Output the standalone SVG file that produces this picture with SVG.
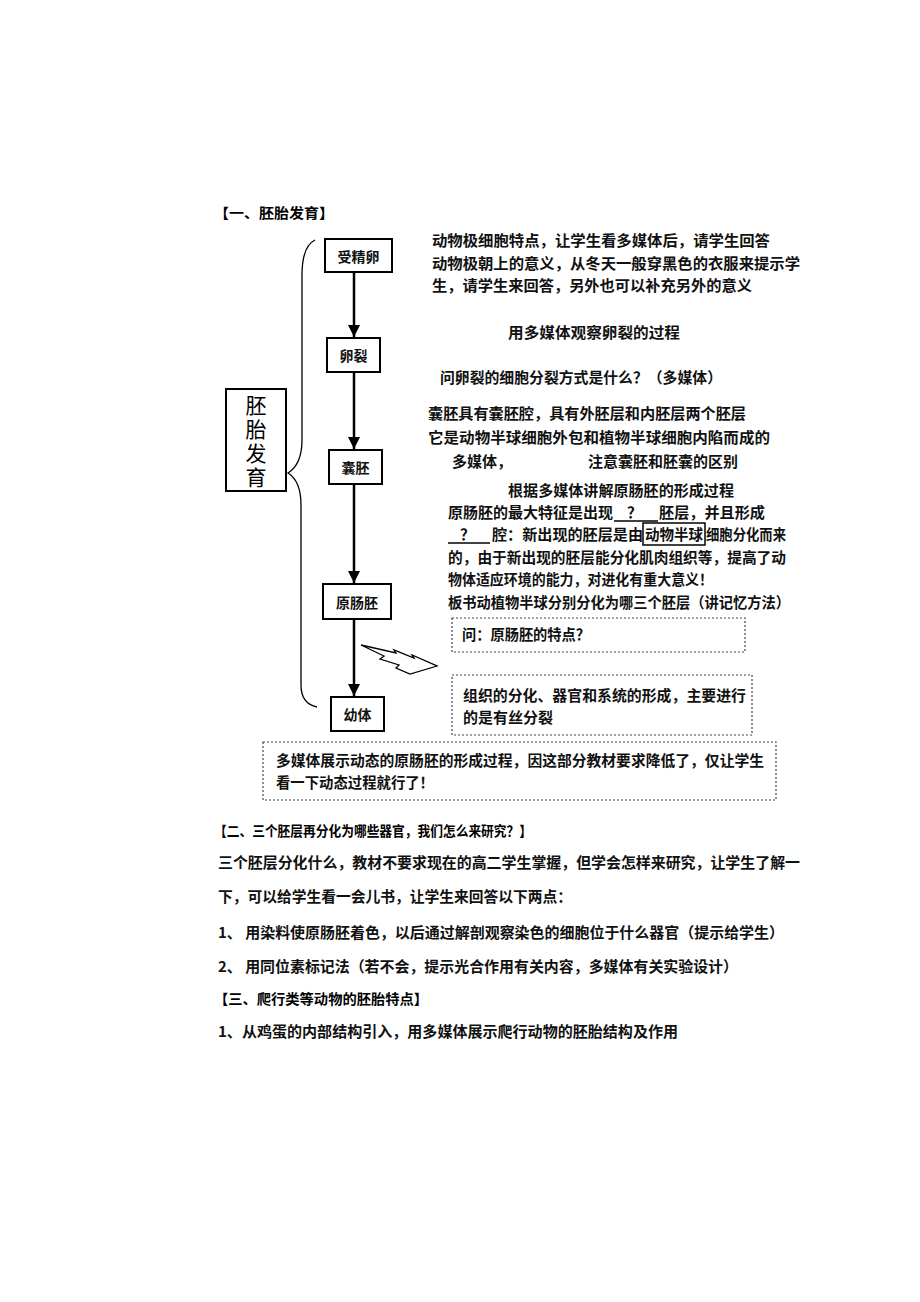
<svg xmlns="http://www.w3.org/2000/svg" width="920" height="1302" viewBox="0 0 920 1302">
<style>
.t{font-family:"Noto Sans CJK SC","Liberation Sans",sans-serif;font-size:15px;font-weight:700;fill:#111}
.h{font-family:"Noto Sans CJK SC","Liberation Sans",sans-serif;font-size:14px;font-weight:700;fill:#000}
.n{fill:#fff;stroke:#000;stroke-width:2}
.nl{font-family:"Noto Sans CJK SC","Liberation Sans",sans-serif;font-size:14px;font-weight:700;fill:#111;text-anchor:middle;dominant-baseline:central}
.d{fill:none;stroke:#444;stroke-width:1.2;stroke-dasharray:2,2}
.c{stroke:#000;stroke-width:2.5;fill:none}
</style>
<defs>
<marker id="ah" viewBox="0 0 10 10" refX="10" refY="5" markerWidth="5" markerHeight="5" orient="auto" markerUnits="strokeWidth">
<path d="M0,0 L10,5 L0,10 Z" fill="#000"/>
</marker>
</defs>
<rect width="920" height="1302" fill="#fff"/>

<text class="h" x="214" y="218" textLength="120" lengthAdjust="spacingAndGlyphs">【一、胚胎发育】</text>

<g id="connectors">
<line class="c" x1="354" y1="272" x2="354" y2="337" marker-end="url(#ah)"/>
<line class="c" x1="354" y1="372" x2="354" y2="449" marker-end="url(#ah)"/>
<line class="c" x1="354" y1="484" x2="354" y2="583" marker-end="url(#ah)"/>
<line class="c" x1="354" y1="619" x2="354" y2="696" marker-end="url(#ah)"/>
</g>

<g id="brace">
<path d="M315,240 C305,245 302,258 302,275 L302,440 C302,458 296,468 288,473 C296,478 301,488 301,505 L301,685 C301,698 307,705 317,707" fill="none" stroke="#000" stroke-width="1.3"/>
</g>

<g id="node-title">
<rect class="n" x="226" y="389" width="60" height="102"/>
<text x="256" y="395" writing-mode="tb" font-family="'Noto Sans CJK SC',sans-serif" font-size="21" letter-spacing="3" fill="#000">胚胎发育</text>
</g>

<g id="node-1"><rect class="n" x="325" y="239" width="67" height="33"/><text class="nl" x="358.5" y="255.5">受精卵</text></g>
<g id="node-2"><rect class="n" x="327" y="338" width="53" height="34"/><text class="nl" x="353.5" y="355">卵裂</text></g>
<g id="node-3"><rect class="n" x="329" y="450" width="53" height="34"/><text class="nl" x="355.5" y="467">囊胚</text></g>
<g id="node-4"><rect class="n" x="323" y="584" width="68" height="35"/><text class="nl" x="357" y="601.5">原肠胚</text></g>
<g id="node-5"><rect class="n" x="331" y="697" width="53" height="34"/><text class="nl" x="357.5" y="714">幼体</text></g>

<g id="lightning">
<path d="M361,645 L396,653 L394,650 L414,658 L412,655 L437,666 L410,674 L396,668 L399,665 L380,659 L384,656 Z" fill="#fff" stroke="#000" stroke-width="1.3" stroke-linejoin="miter"/>
</g>

<g id="notes">
<text class="t" x="432" y="246" textLength="338" lengthAdjust="spacingAndGlyphs">动物极细胞特点，让学生看多媒体后，请学生回答</text>
<text class="t" x="432" y="269" textLength="368" lengthAdjust="spacingAndGlyphs">动物极朝上的意义，从冬天一般穿黑色的衣服来提示学</text>
<text class="t" x="432" y="291" textLength="320" lengthAdjust="spacingAndGlyphs">生，请学生来回答，另外也可以补充另外的意义</text>
<text class="t" x="508" y="338" textLength="172" lengthAdjust="spacingAndGlyphs">用多媒体观察卵裂的过程</text>
<text class="t" x="440" y="383" textLength="282" lengthAdjust="spacingAndGlyphs">问卵裂的细胞分裂方式是什么？（多媒体）</text>
<text class="t" x="428" y="419" textLength="318" lengthAdjust="spacingAndGlyphs">囊胚具有囊胚腔，具有外胚层和内胚层两个胚层</text>
<text class="t" x="428" y="443" textLength="342" lengthAdjust="spacingAndGlyphs">它是动物半球细胞外包和植物半球细胞内陷而成的</text>
<text class="t" x="452" y="467">多媒体，</text>
<text class="t" x="588" y="467" textLength="150" lengthAdjust="spacingAndGlyphs">注意囊胚和胚囊的区别</text>
<text class="t" x="508" y="496" textLength="226" lengthAdjust="spacingAndGlyphs">根据多媒体讲解原肠胚的形成过程</text>
<text class="t" x="448" y="518" textLength="165" lengthAdjust="spacingAndGlyphs">原肠胚的最大特征是出现</text>
<text class="t" x="627" y="518">？</text>
<line x1="614" y1="521" x2="658" y2="521" stroke="#000" stroke-width="1.3"/>
<text class="t" x="659" y="518" textLength="106" lengthAdjust="spacingAndGlyphs">胚层，并且形成</text>
<text class="t" x="460" y="540">？</text>
<line x1="448" y1="543" x2="490" y2="543" stroke="#000" stroke-width="1.3"/>
<text class="t" x="492" y="540" textLength="151" lengthAdjust="spacingAndGlyphs">腔：新出现的胚层是由</text>
<rect x="643" y="523" width="62" height="22" fill="none" stroke="#000" stroke-width="1.5"/>
<text class="t" x="645" y="540" textLength="58" lengthAdjust="spacingAndGlyphs">动物半球</text>
<text class="t" x="706" y="540" textLength="80" lengthAdjust="spacingAndGlyphs">细胞分化而来</text>
<text class="t" x="448" y="563" textLength="338" lengthAdjust="spacingAndGlyphs">的，由于新出现的胚层能分化肌肉组织等，提高了动</text>
<text class="t" x="448" y="585" textLength="265" lengthAdjust="spacingAndGlyphs">物体适应环境的能力，对进化有重大意义！</text>
<text class="t" x="448" y="608" textLength="342" lengthAdjust="spacingAndGlyphs">板书动植物半球分别分化为哪三个胚层（讲记忆方法）</text>
</g>

<g id="box-question">
<rect class="d" x="452" y="618" width="293" height="34"/>
<text class="t" x="462" y="640" textLength="128" lengthAdjust="spacingAndGlyphs">问：原肠胚的特点？</text>
</g>
<g id="box-mitosis">
<rect class="d" x="452" y="675" width="300" height="60"/>
<text class="t" x="463" y="701" textLength="283" lengthAdjust="spacingAndGlyphs">组织的分化、器官和系统的形成，主要进行</text>
<text class="t" x="463" y="723" textLength="90" lengthAdjust="spacingAndGlyphs">的是有丝分裂</text>
</g>
<g id="box-multimedia">
<rect class="d" x="263" y="742" width="513" height="58"/>
<text class="t" x="276" y="766" textLength="488" lengthAdjust="spacingAndGlyphs">多媒体展示动态的原肠胚的形成过程，因这部分教材要求降低了，仅让学生</text>
<text class="t" x="276" y="788" textLength="158" lengthAdjust="spacingAndGlyphs">看一下动态过程就行了！</text>
</g>

<g id="section2">
<text class="h" x="214" y="836" textLength="318" lengthAdjust="spacingAndGlyphs">【二、三个胚层再分化为哪些器官，我们怎么来研究？】</text>
<text class="t" x="218" y="868" textLength="582" lengthAdjust="spacingAndGlyphs">三个胚层分化什么，教材不要求现在的高二学生掌握，但学会怎样来研究，让学生了解一</text>
<text class="t" x="218" y="902" textLength="354" lengthAdjust="spacingAndGlyphs">下，可以给学生看一会儿书，让学生来回答以下两点：</text>
<text class="t" x="218" y="938" textLength="566" lengthAdjust="spacingAndGlyphs">1、 用染料使原肠胚着色，以后通过解剖观察染色的细胞位于什么器官（提示给学生）</text>
<text class="t" x="218" y="972" textLength="520" lengthAdjust="spacingAndGlyphs">2、 用同位素标记法（若不会，提示光合作用有关内容，多媒体有关实验设计）</text>
<text class="h" x="214" y="1004" textLength="214" lengthAdjust="spacingAndGlyphs">【三、爬行类等动物的胚胎特点】</text>
<text class="t" x="218" y="1037" textLength="460" lengthAdjust="spacingAndGlyphs">1、从鸡蛋的内部结构引入，用多媒体展示爬行动物的胚胎结构及作用</text>
</g>
</svg>
